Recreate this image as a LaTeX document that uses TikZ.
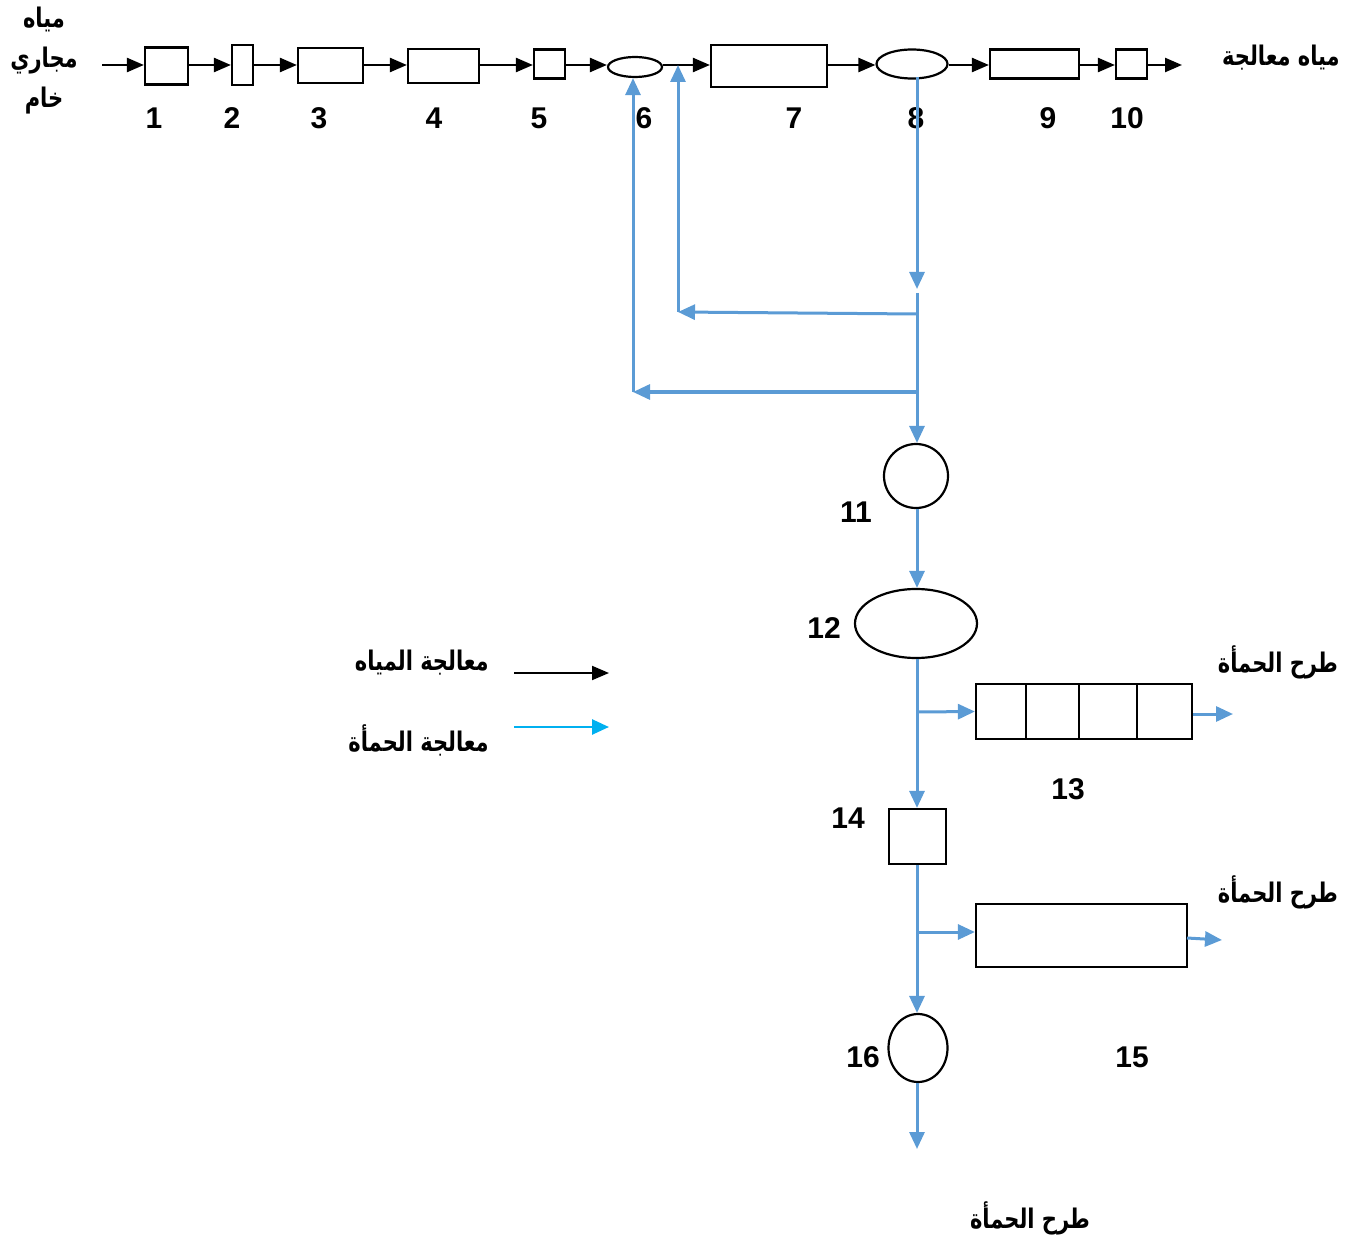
\documentclass[tikz,border=0pt]{standalone}
\usepackage{fontspec}
\setmainfont{Liberation Sans}
\newfontfamily\arabicfont[Script=Arabic]{DejaVu Sans}
\TeXXeTstate=1
\usetikzlibrary{arrows.meta,shapes.geometric}
\definecolor{sblue}{HTML}{5B9BD5}
\definecolor{cyanl}{HTML}{00B0F0}
\newcommand{\artext}[1]{\scalebox{1.05}[1.35]{\beginR #1\endR}}
\tikzset{
  boxn/.style={draw, line width=2.2pt, inner sep=0pt, fill=white},
  ellb/.style={draw, ellipse, line width=2.2pt, inner sep=0pt, fill=white},
  blk/.style={line width=2.4pt, -{Triangle[length=17pt,width=14pt]}},
  blu/.style={sblue, line width=3pt, -{Triangle[length=17pt,width=15pt]}},
  num/.style={font=\bfseries\fontsize{30}{32}\selectfont, inner sep=0pt},
  arb/.style={font=\arabicfont\bfseries\fontsize{20}{24}\selectfont, inner sep=0pt},
}
\begin{document}
\begin{tikzpicture}[x=1pt,y=-1pt]
\useasboundingbox (0,0) rectangle (1350,1241);
% top row
\node[boxn, minimum width=43pt, minimum height=37pt] (b1) at (166.5,66) {};
\node[boxn, minimum width=21pt, minimum height=40pt] (b2) at (242.5,65) {};
\node[boxn, minimum width=65pt, minimum height=35pt] (b3) at (330.5,65.5) {};
\node[boxn, minimum width=71pt, minimum height=34pt] (b4) at (443.5,66) {};
\node[boxn, minimum width=31pt, minimum height=29pt] (b5) at (549.5,64) {};
\node[ellb, minimum width=54pt, minimum height=20pt] (e6) at (635,67) {};
\node[boxn, minimum width=116pt, minimum height=42pt] (b7) at (769,66) {};
\node[ellb, minimum width=71pt, minimum height=29pt] (e8) at (912,64) {};
\node[boxn, minimum width=89pt, minimum height=29pt] (b9) at (1034.5,64) {};
\node[boxn, minimum width=31pt, minimum height=29pt] (b10) at (1131.5,64) {};
\coordinate (in) at (102,65);
\coordinate (out) at (1182,65);
\draw[blk] (in) -- (b1.west |- in);
\draw[blk] (b1.east |- in) -- (b2.west |- in);
\draw[blk] (b2.east |- in) -- (b3.west |- in);
\draw[blk] (b3.east |- in) -- (b4.west |- in);
\draw[blk] (b4.east |- in) -- (b5.west |- in);
\draw[blk] (b5.east |- in) -- (e6.west |- in);
\draw[blk] (e6.east |- in) -- (b7.west |- in);
\draw[blk] (b7.east |- in) -- (e8.west |- in);
\draw[blk] (e8.east |- in) -- (b9.west |- in);
\draw[blk] (b9.east |- in) -- (b10.west |- in);
\draw[blk] (b10.east |- in) -- (out);
% labels
\node[num] (n1) at (154,118) {1};
\node[num] (n2) at (232,118) {2};
\node[num] (n3) at (319,118) {3};
\node[num] (n4) at (434,118) {4};
\node[num] (n5) at (539,118) {5};
\node[num] (n6) at (644,118) {6};
\node[num] (n7) at (794,118) {7};
\node[num] (n8) at (916,118) {8};
\node[num] (n9) at (1048,118) {9};
\node[num] (n10) at (1127,118) {10};
\node[arb] (t1) at (44,19) {\artext{مياه}};
\node[arb] (t2) at (44,61) {\artext{مجاري}};
\node[arb] (t3) at (44,101) {\artext{خام}};
\node[arb, anchor=east] (tout) at (1340,58) {\artext{مياه معالجة}};
% sludge line
\coordinate (s0) at (917,77);
\coordinate (j1) at (917,289);
\coordinate (j2) at (917,293);
\coordinate (ja) at (917,314);
\coordinate (ka) at (678,312);
\coordinate (jb) at (917,392);
\coordinate (kb) at (633,392);
\node[ellb, minimum width=64pt, minimum height=64pt] (c11) at (916,476) {};
\node[ellb, minimum width=122pt, minimum height=69pt] (e12) at (916,623.5) {};
\node[boxn, minimum width=216pt, minimum height=55pt] (b13) at (1084,711.5) {};
\draw[boxn] (1026,684) -- (1026,739) (1079,684) -- (1079,739) (1137,684) -- (1137,739);
\node[boxn, minimum width=57pt, minimum height=55pt] (b14) at (917.5,836.5) {};
\node[boxn, minimum width=211pt, minimum height=63pt] (b15) at (1081.5,935.5) {};
\node[ellb, minimum width=59pt, minimum height=68pt] (c16) at (918,1048) {};
\draw[blu] (s0) -- (j1);
\draw[blu] (ja) -- (ka);
\draw[blu] (ka) -- (ka |- in);
\draw[blu] (jb) -- (kb);
\draw[blu] (kb) -- (kb |- e6.south);
\draw[blu] (j2) -- (c11.north -| j2);
\draw[blu] (c11.south -| j2) -- (e12.north -| j2);
\coordinate (jc) at (917,712);
\coordinate (o13) at (1233,714);
\draw[blu] (e12.south -| j2) -- (b14.north -| j2);
\draw[blu] (jc) -- (b13.west);
\draw[blu] (b13.east |- o13) -- (o13);
\coordinate (jd) at (917,932);
\coordinate (o15) at (1222,940);
\coordinate (o16) at (917,1149);
\draw[blu] (b14.south -| j2) -- (c16.north -| j2);
\draw[blu] (jd) -- (jd -| b15.west);
\draw[blu] (1187,938) -- (o15);
\draw[blu] (c16.south -| j2) -- (o16);
\node[num] (n11) at (856,512) {11};
\node[num] (n12) at (824,628) {12};
\node[num] (n13) at (1068,789) {13};
\node[num] (n14) at (848,818) {14};
\node[num] (n15) at (1132,1057) {15};
\node[num] (n16) at (863,1057) {16};
\node[arb, anchor=east] (d1) at (1338,662) {\artext{طرح الحمأة}};
\node[arb, anchor=east] (d2) at (1338,892) {\artext{طرح الحمأة}};
\node[arb] (d3) at (1030,1218) {\artext{طرح الحمأة}};
% legend
\node[arb, anchor=east] (l1) at (489,663) {\artext{معالجة المياه}};
\node[arb, anchor=east] (l2) at (489,740) {\artext{معالجة الحمأة}};
\coordinate (la) at (514,673);
\coordinate (lb) at (609,673);
\coordinate (lc) at (514,727);
\coordinate (ld) at (609,727);
\draw[blk, line width=2pt] (la) -- (lb);
\draw[cyanl, line width=2.6pt, -{Triangle[length=17pt,width=15pt]}] (lc) -- (ld);
\end{tikzpicture}
\end{document}
